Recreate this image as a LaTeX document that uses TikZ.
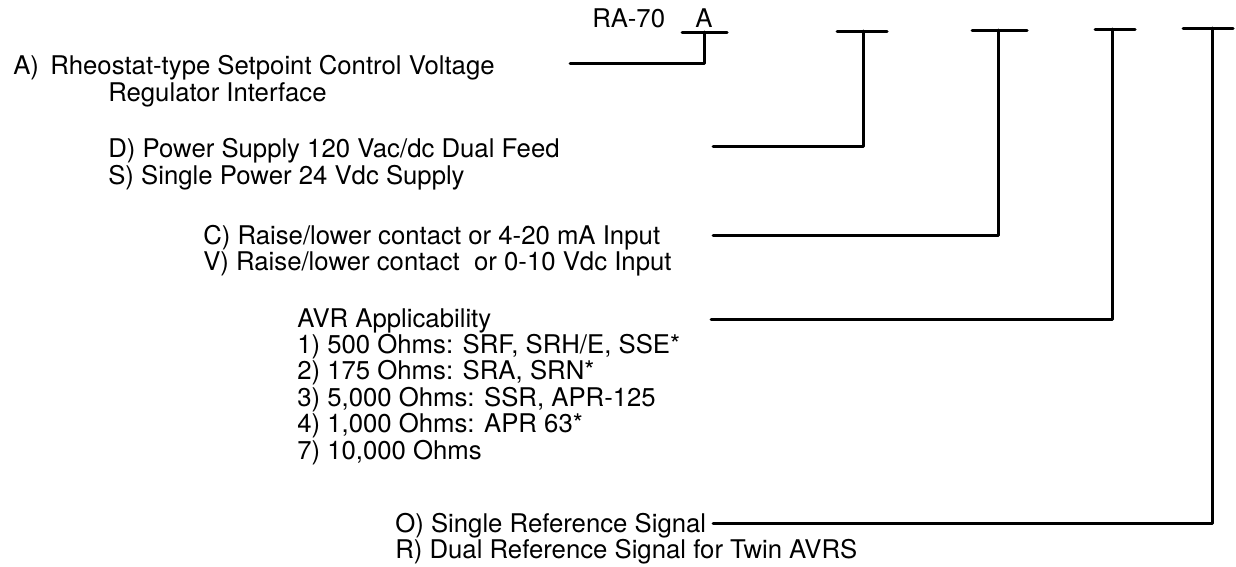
\documentclass[tikz,border=0pt]{standalone}
\usepackage{fontspec}
\setmainfont{TeX Gyre Heros}
\usetikzlibrary{calc}
\tikzset{
	lbl/.style={anchor=base west, inner sep=0pt, font=\fontsize{18.3pt}{20pt}\selectfont},
	lead/.style={line width=0.75mm, line cap=round, line join=round}
}

\begin{document}
\begin{tikzpicture}[x=0.025cm, y=-0.025cm]
			%%%%% START %%%%%
			\useasboundingbox (0,0) rectangle (1236,566);
			
			\node[lbl] (model) at (592,27) {RA-70};
			\node[lbl] (codeA) at (695,27) {A};
			
			\node[lbl] (keyA) at (13,74) {A)};
			\node[lbl] (optA) at (50,74) {Rheostat-type Setpoint Control Voltage};
			\node[lbl] (optAb) at (108,101) {Regulator Interface};
			
			\node[lbl] (optD) at (108,157) {D) Power Supply 120 Vac/dc Dual Feed};
			\node[lbl] (optS) at (108,184) {S) Single Power 24 Vdc Supply};
			
			\node[lbl] (optC) at (203,244) {C) Raise/lower contact or 4-20 mA Input};
			\node[lbl] (optV) at (203,270) {V) Raise/lower contact\ \ or 0-10 Vdc Input};
			
			\node[lbl] (avr) at (297,327) {AVR Applicability};
			\node[lbl] (avr1) at (297,353.4) {1) 500 Ohms: SRF, SRH/E, SSE*};
			\node[lbl] (avr2) at (297,379.8) {2) 175 Ohms: SRA, SRN*};
			\node[lbl] (avr3) at (297,406.2) {3) 5,000 Ohms: SSR, APR-125};
			\node[lbl] (avr4) at (297,432.6) {4) 1,000 Ohms: APR 63*};
			\node[lbl] (avr7) at (297,459) {7) 10,000 Ohms};
			
			\node[lbl] (optO) at (395,532) {O) Single Reference Signal};
			\node[lbl] (optR) at (395,558) {R) Dual Reference Signal for Twin AVRS};
			
			\coordinate (tA) at (704,32);
			\coordinate (tD) at (863,31);
			\coordinate (tC) at (998,30);
			\coordinate (tN) at (1112,29);
			\coordinate (tO) at (1212,28);
			
			\coordinate (eA) at (570,63);
			\coordinate (eD) at (713,146);
			\coordinate (eC) at (713,235);
			\coordinate (eN) at (711,319);
			\coordinate (eO) at (713,523);
			
			\draw[lead] (eA) -| (tA);
			\draw[lead] ($(tA)+(-22,0)$) -- ($(tA)+(23,0)$);
			
			\draw[lead] (eD) -| (tD);
			\draw[lead] ($(tD)+(-26,0)$) -- ($(tD)+(24,0)$);
			
			\draw[lead] (eC) -| (tC);
			\draw[lead] ($(tC)+(-26,0)$) -- ($(tC)+(29,0)$);
			
			\draw[lead] (eN) -| (tN);
			\draw[lead] ($(tN)+(-17,0)$) -- ($(tN)+(23,0)$);
			
			\draw[lead] (eO) -| (tO);
			\draw[lead] ($(tO)+(-29,0)$) -- ($(tO)+(21,0)$);
			
			%%%%% END %%%%%
\end{tikzpicture}
\end{document}
